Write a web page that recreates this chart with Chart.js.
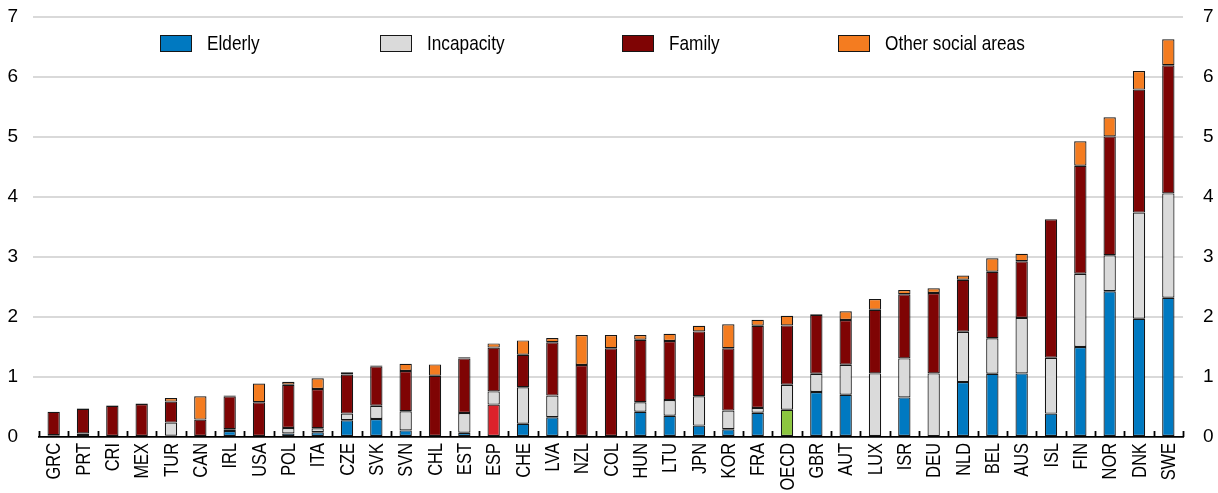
<!DOCTYPE html>
<html>
<head>
<meta charset="utf-8">
<script src="https://cdn.jsdelivr.net/npm/chart.js@4.4.1/dist/chart.umd.min.js"></script>
<style>
  body { margin: 0; background: #fff; }
</style>
</head>
<body>
  <canvas id="myChart" width="1218" height="493"></canvas>
  <script>
    const countries = ['GRC','PRT','CRI','MEX','TUR','CAN','IRL','USA','POL','ITA','CZE','SVK','SVN','CHL','EST','ESP','CHE','LVA','NZL','COL','HUN','LTU','JPN','KOR','FRA','OECD','GBR','AUT','LUX','ISR','DEU','NLD','BEL','AUS','ISL','FIN','NOR','DNK','SWE'];

    const elderly    = [0, 0.05, 0, 0, 0.02, 0, 0.1, 0, 0.06, 0.08, 0.28, 0.3, 0.11, 0, 0.07, 0.54, 0.22, 0.33, 0, 0, 0.42, 0.355, 0.19, 0.13, 0.405, 0.455, 0.75, 0.705, 0, 0.66, 0.015, 0.915, 1.055, 1.06, 0.39, 1.5, 2.43, 1.97, 2.32];
    const incapacity = [0.03, 0.01, 0, 0, 0.22, 0, 0.03, 0, 0.09, 0.065, 0.11, 0.22, 0.32, 0, 0.33, 0.22, 0.61, 0.36, 0, 0, 0.16, 0.26, 0.49, 0.31, 0.08, 0.415, 0.305, 0.5, 1.06, 0.65, 1.045, 0.84, 0.59, 0.925, 0.93, 1.22, 0.6, 1.77, 1.74];
    const family     = [0.39, 0.41, 0.52, 0.55, 0.35, 0.29, 0.55, 0.58, 0.72, 0.655, 0.65, 0.66, 0.67, 1.02, 0.91, 0.73, 0.54, 0.89, 1.2, 1.48, 1.04, 0.985, 1.08, 1.04, 1.37, 0.99, 0.98, 0.745, 1.06, 1.07, 1.34, 0.865, 1.11, 0.945, 2.31, 1.8, 1.98, 2.05, 2.135];
    const other      = [0, 0.01, 0.01, 0.01, 0.06, 0.39, 0.01, 0.31, 0.05, 0.18, 0.04, 0.01, 0.12, 0.19, 0.02, 0.07, 0.24, 0.07, 0.5, 0.22, 0.08, 0.12, 0.095, 0.4, 0.1, 0.16, 0.01, 0.145, 0.18, 0.07, 0.08, 0.07, 0.225, 0.125, 0, 0.41, 0.32, 0.31, 0.435];

    const yTicks = [0, 1, 2, 3, 4, 5, 6, 7];

    const FONT = "'Liberation Sans', Arial, sans-serif";
    const NARROW = 0.82;   // squeeze factor to get an Arial Narrow look
    const EDGE = '#161616';
    const ELDERLY = '#0079C1';

    // Spain and the OECD average get their own colour for the elderly part
    const elderlyColor = (ctx) => {
      const c = countries[ctx.dataIndex];
      if (c === 'ESP') return '#DC222B';
      if (c === 'OECD') return '#8CC63F';
      return ELDERLY;
    };

    // small upward ticks on the baseline between categories
    const categoryTicks = {
      id: 'categoryTicks',
      afterDatasetsDraw(chart) {
        const xs = chart.scales.x;
        const y0 = chart.scales.y.getPixelForValue(0);
        const n = countries.length;
        const ctx = chart.ctx;
        ctx.save();
        ctx.strokeStyle = '#000';
        ctx.lineWidth = 1.8;
        ctx.beginPath();
        for (let i = 0; i <= n; i++) {
          const x = Math.round(xs.left + i * xs.width / n) + 0.5;
          ctx.moveTo(x, y0);
          ctx.lineTo(x, y0 - 6);
        }
        ctx.stroke();
        ctx.restore();
      }
    };

    // vertical country codes, condensed along the text direction
    const narrowLabels = {
      id: 'narrowLabels',
      afterDraw(chart) {
        const xs = chart.scales.x;
        const ctx = chart.ctx;
        ctx.save();
        ctx.font = '20px ' + FONT;
        ctx.fillStyle = '#000';
        ctx.textAlign = 'right';
        ctx.textBaseline = 'middle';
        countries.forEach((c, i) => {
          ctx.save();
          ctx.translate(xs.getPixelForValue(i) + 1, xs.top + 6);
          ctx.rotate(-Math.PI / 2);
          ctx.scale(NARROW, 1);
          ctx.fillText(c, 0, 0);
          ctx.restore();
        });
        ctx.restore();
      }
    };

    // legend laid out in one row above the bars
    const rowLegend = {
      id: 'rowLegend',
      afterDraw(chart, args, opts) {
        const ctx = chart.ctx;
        ctx.save();
        ctx.font = '21px ' + FONT;
        ctx.textBaseline = 'middle';
        chart.data.datasets.forEach((ds, i) => {
          const x = opts.xs[i];
          const fill = typeof ds.backgroundColor === 'function' ? ELDERLY : ds.backgroundColor;
          ctx.fillStyle = fill;
          ctx.fillRect(x, opts.y - 8, 31, 16);
          ctx.strokeStyle = EDGE;
          ctx.lineWidth = 1;
          ctx.strokeRect(x + 0.5, opts.y - 7.5, 31, 16);
          ctx.save();
          ctx.translate(x + 47, opts.y + 1);
          ctx.scale(NARROW, 1);
          ctx.fillStyle = '#000';
          ctx.fillText(ds.label, 0, 0);
          ctx.restore();
        });
        ctx.restore();
      }
    };

    const noPad = (scale) => {
      scale.paddingTop = 0;
      scale.paddingBottom = 0;
    };

    new Chart('myChart', {
      type: 'bar',
      data: {
        labels: countries,
        datasets: [
          { label: 'Elderly', data: elderly, backgroundColor: elderlyColor },
          { label: 'Incapacity', data: incapacity, backgroundColor: '#DADADA' },
          { label: 'Family', data: family, backgroundColor: '#7F0404' },
          { label: 'Other social areas', data: other, backgroundColor: '#F47C20' }
        ]
      },
      plugins: [categoryTicks, narrowLabels, rowLegend],
      options: {
        responsive: false,
        animation: false,
        layout: { padding: { top: 17, left: 0, right: 0, bottom: 0 } },
        datasets: {
          bar: {
            borderColor: EDGE,
            borderWidth: 1.2,
            borderSkipped: false,
            categoryPercentage: 1,
            barPercentage: 0.42
          }
        },
        plugins: {
          legend: { display: false },
          tooltip: { enabled: false },
          rowLegend: { xs: [160, 380, 622, 838], y: 43 }
        },
        scales: {
          x: {
            stacked: true,
            grid: { display: false },
            border: { display: true, color: '#000', width: 1.8 },
            ticks: { display: false },
            afterFit(scale) {
              scale.height = 56;
              scale.paddingLeft = 0;
              scale.paddingRight = 0;
            }
          },
          y: {
            stacked: true,
            position: 'left',
            min: 0,
            max: 7,
            afterBuildTicks(scale) { scale.ticks = yTicks.map(v => ({ value: v })); },
            grid: {
              color: (c) => c.tick && c.tick.value === 0 ? 'rgba(0,0,0,0)' : '#D9D9D9',
              tickColor: (c) => c.tick && c.tick.value === 0 ? 'rgba(0,0,0,0)' : '#D9D9D9',
              lineWidth: 2,
              drawTicks: true,
              tickLength: 6
            },
            border: { display: false },
            ticks: {
              padding: 15,
              color: '#000',
              font: { family: FONT, size: 19 }
            },
            afterFit(scale) { scale.width = 39; noPad(scale); }
          },
          y2: {
            position: 'right',
            min: 0,
            max: 7,
            afterBuildTicks(scale) { scale.ticks = yTicks.map(v => ({ value: v })); },
            grid: { display: false, drawTicks: false },
            border: { display: false },
            ticks: {
              padding: 20,
              color: '#000',
              font: { family: FONT, size: 19 }
            },
            afterFit(scale) { scale.width = 35; noPad(scale); }
          }
        }
      }
    });
  </script>
</body>
</html>
